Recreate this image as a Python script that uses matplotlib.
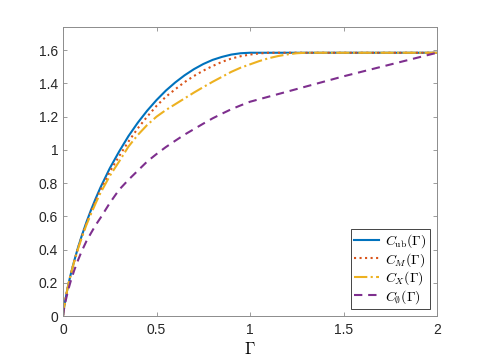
import numpy as np
import matplotlib
matplotlib.use("Agg")
import matplotlib.pyplot as plt

plt.rcParams['font.family'] = ['Liberation Sans', 'DejaVu Sans']
plt.rcParams['mathtext.fontset'] = 'cm'

# values
g_ub = [0, 0.005, 0.01, 0.02, 0.03, 0.04, 0.06, 0.08, 0.1, 0.125, 0.15, 0.175, 0.2, 0.25, 0.3,
        0.35, 0.4, 0.45, 0.5, 0.55, 0.6, 0.65, 0.7, 0.75, 0.8, 0.85, 0.9, 0.95, 1.0, 2.0]
c_ub = [0, 0.046, 0.08, 0.142, 0.196, 0.245, 0.332, 0.411, 0.482, 0.564, 0.639, 0.708, 0.773, 0.889, 0.99,
        1.083, 1.164, 1.236, 1.30, 1.357, 1.406, 1.449, 1.486, 1.517, 1.542, 1.56, 1.574, 1.582, 1.585, 1.585]

g_m = [0, 0.005, 0.01, 0.02, 0.03, 0.04, 0.06, 0.08, 0.1, 0.125, 0.15, 0.175, 0.2, 0.25, 0.3,
       0.35, 0.4, 0.45, 0.5, 0.55, 0.6, 0.65, 0.7, 0.75, 0.8, 0.85, 0.9, 0.95, 1.0, 1.05, 1.1, 2.0]
c_m = [0, 0.046, 0.08, 0.142, 0.196, 0.244, 0.33, 0.408, 0.477, 0.556, 0.628, 0.695, 0.758, 0.868, 0.962,
       1.05, 1.13, 1.20, 1.265, 1.32, 1.365, 1.408, 1.445, 1.477, 1.505, 1.53, 1.55, 1.564, 1.574, 1.581, 1.585, 1.585]

g_x = [0, 0.005, 0.01, 0.02, 0.03, 0.04, 0.06, 0.08, 0.1, 0.125, 0.15, 0.175, 0.2, 0.25, 0.3,
       0.35, 0.4, 0.45, 0.5, 0.55, 0.6, 0.65, 0.7, 0.75, 0.8, 0.85, 0.9, 0.95, 1.0, 1.05, 1.1,
       1.15, 1.2, 1.25, 1.3, 2.0]
c_x = [0, 0.046, 0.08, 0.142, 0.196, 0.243, 0.328, 0.403, 0.47, 0.548, 0.615, 0.68, 0.74, 0.843, 0.93,
       1.02, 1.09, 1.15, 1.20, 1.24, 1.275, 1.31, 1.345, 1.378, 1.41, 1.44, 1.47, 1.495, 1.515, 1.535, 1.552,
       1.565, 1.575, 1.582, 1.585, 1.585]

g_0 = [0, 0.005, 0.01, 0.02, 0.03, 0.04, 0.06, 0.08, 0.1, 0.125, 0.15, 0.175, 0.2, 0.25, 0.3,
       0.35, 0.4, 0.45, 0.5, 0.55, 0.6, 0.65, 0.7, 0.75, 0.8, 0.85, 0.9, 0.95, 1.0, 1.5, 2.0]
c_0 = [0, 0.04, 0.07, 0.12, 0.165, 0.205, 0.275, 0.335, 0.39, 0.45, 0.50, 0.548, 0.59, 0.68, 0.76,
       0.82, 0.875, 0.93, 0.975, 1.017, 1.055, 1.092, 1.125, 1.158, 1.19, 1.218, 1.245, 1.268, 1.29, 1.443, 1.585]

labels = [r'$C_{\mathrm{ub}}(\Gamma)$', r'$C_M(\Gamma)$', r'$C_X(\Gamma)$', r'$C_\emptyset(\Gamma)$']
xt = [0, 0.5, 1, 1.5, 2]
xtl = ['0', '0.5', '1', '1.5', '2']
yt = [0, 0.2, 0.4, 0.6, 0.8, 1.0, 1.2, 1.4, 1.6]
ytl = ['0', '0.2', '0.4', '0.6', '0.8', '1', '1.2', '1.4', '1.6']

fig = plt.figure(figsize=(4.83, 3.62), dpi=100)
ax = fig.add_axes([63/483, 46/362, 374/483, 289/362])

ax.plot(g_ub, c_ub, '-', color=(0, 0.447, 0.741), lw=1.5, label=labels[0])
ax.plot(g_m, c_m, ':', color=(0.85, 0.325, 0.098), lw=1.5, label=labels[1])
ax.plot(g_x, c_x, '-.', color=(0.929, 0.694, 0.125), lw=1.5, label=labels[2])
ax.plot(g_0, c_0, '--', color=(0.494, 0.184, 0.556), lw=1.5, dashes=(4, 2.8), label=labels[3])

ax.set_xlim(0, 2)
ax.set_ylim(0, 1.74)
ax.set_xticks(xt)
ax.set_xticklabels(xtl)
ax.set_yticks(yt)
ax.set_yticklabels(ytl)
ax.tick_params(direction='in', top=True, right=True, length=3, width=0.6,
               colors='0.55', labelcolor='0.15', labelsize=10)
ax.tick_params(axis='x', pad=5)
for s in ax.spines.values():
    s.set_color('0.55')
    s.set_linewidth(0.7)
ax.set_xlabel(r'$\Gamma$', fontsize=12, labelpad=3)

leg = ax.legend(loc='lower right', fontsize=10, fancybox=False, framealpha=1,
                edgecolor='0.15', borderaxespad=0.5, handlelength=1.8,
                labelspacing=0.05, handletextpad=0.4, borderpad=0.25)
leg.get_frame().set_linewidth(0.6)

fig.savefig('out.png', dpi=100)
